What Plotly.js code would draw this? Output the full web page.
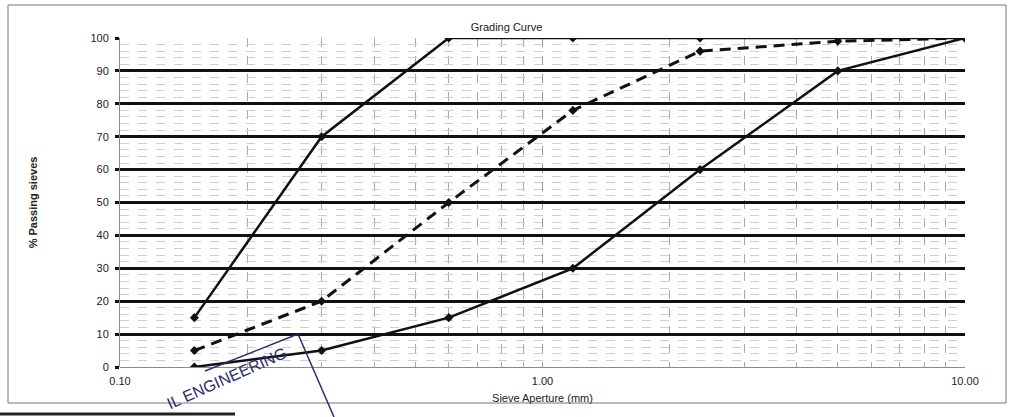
<!DOCTYPE html>
<html>
<head>
<meta charset="utf-8">
<script src="https://cdn.plot.ly/plotly-3.0.1.min.js"></script>
<style>html,body{margin:0;padding:0;background:#fff;}#chart{width:1013px;height:417px;}</style>
</head>
<body>
<div id="chart"></div>
<script>
// Sieve apertures (mm)
const sieves = [0.15, 0.3, 0.6, 1.18, 2.36, 5, 10];
// Upper grading limit (% passing)
const upperLimit = [15, 70, 100, 100, 100, 100, 100];
// Sample grading (% passing)
const sample = [5, 20, 50, 78, 96, 99, 100];
// Lower grading limit (% passing)
const lowerLimit = [0, 5, 15, 30, 60, 90, 100];
// Axis tick labels
const xTickVals = [0.1, 1, 10];
const xTickText = ['0.10', '1.00', '10.00'];
const xMinorVals = [0.2,0.3,0.4,0.5,0.6,0.7,0.8,0.9,2,3,4,5,6,7,8,9];

const font = 'Liberation Sans, Arial, sans-serif';
const marker = {symbol: 'diamond', size: 7, color: '#111'};

const traces = [
  {x: sieves, y: upperLimit, mode: 'lines+markers', name: 'Upper limit',
   line: {color: '#111', width: 2.5}, marker: marker},
  {x: sieves, y: sample, mode: 'lines+markers', name: 'Sample',
   line: {color: '#111', width: 3, dash: '11px,7px'}, marker: marker},
  {x: sieves, y: lowerLimit, mode: 'lines+markers', name: 'Lower limit',
   line: {color: '#111', width: 2.5}, marker: marker}
];

const px = v => (v - 120) / 845;
const py = v => (367 - v) / 329;

const layout = {
  width: 1013, height: 417,
  margin: {l: 120, r: 48, t: 38, b: 50},
  paper_bgcolor: '#fff', plot_bgcolor: '#fff',
  showlegend: false,
  font: {family: font, size: 11, color: '#222'},
  title: {text: 'Grading Curve', font: {family: font, size: 11, color: '#222'},
          x: 0.5, xanchor: 'center', y: 0.935, yanchor: 'middle'},
  xaxis: {
    type: 'log', range: [-1, 1],
    tickmode: 'array', tickvals: xTickVals, ticktext: xTickText,
    ticks: '', showline: false, ticklabelstandoff: 6,
    showgrid: true, gridcolor: '#9a9a9a', gridwidth: 1, griddash: 'dash',
    minor: {tickmode: 'array', tickvals: xMinorVals, showgrid: true,
            gridcolor: '#a8a8a8', gridwidth: 1, griddash: 'dash', ticks: ''},
    tickfont: {family: font, size: 11, color: '#222'},
    title: {text: 'Sieve Aperture (mm)', font: {family: font, size: 11, color: '#222'}, standoff: 8},
    zeroline: false
  },
  yaxis: {
    range: [0, 100], dtick: 10, tick0: 0,
    ticks: 'outside', ticklen: 4, tickwidth: 3, tickcolor: '#111', ticklabelstandoff: 4,
    showgrid: true, gridcolor: '#111', gridwidth: 3,
    minor: {dtick: 2, showgrid: true, gridcolor: '#cfcfcf', gridwidth: 1, griddash: 'dash'},
    zeroline: true, zerolinecolor: '#8a8a8a', zerolinewidth: 1,
    showline: true, linecolor: '#8a8a8a', linewidth: 1,
    tickfont: {family: font, size: 11, color: '#222'},
    title: {text: '% Passing sieves', font: {family: font, size: 11, color: '#222', weight: 'bold'}, standoff: 50}
  },
  shapes: [
    {type: 'rect', xref: 'paper', yref: 'paper', x0: px(8), x1: px(1006), y0: py(403), y1: py(5),
     line: {color: '#777', width: 1}, fillcolor: 'rgba(0,0,0,0)', layer: 'below'},
    {type: 'line', xref: 'paper', yref: 'paper', x0: px(298), y0: py(334), x1: px(205), y1: py(371),
     line: {color: '#2b2d6e', width: 1.5}},
    {type: 'line', xref: 'paper', yref: 'paper', x0: px(298), y0: py(334), x1: px(334), y1: py(417),
     line: {color: '#2b2d6e', width: 1.5}},
    {type: 'line', xref: 'paper', yref: 'paper', x0: px(0), y0: py(414), x1: px(235), y1: py(414),
     line: {color: '#222', width: 3}}
  ],
  annotations: [
    {text: 'IL ENGINEERING', xref: 'paper', yref: 'paper', x: px(226), y: py(378),
     xanchor: 'center', yanchor: 'middle',
     showarrow: false, textangle: -24, font: {family: font, size: 16, color: '#2b2d6e'}}
  ]
};

Plotly.newPlot('chart', traces, layout, {displayModeBar: false, staticPlot: true});
</script>
</body>
</html>
